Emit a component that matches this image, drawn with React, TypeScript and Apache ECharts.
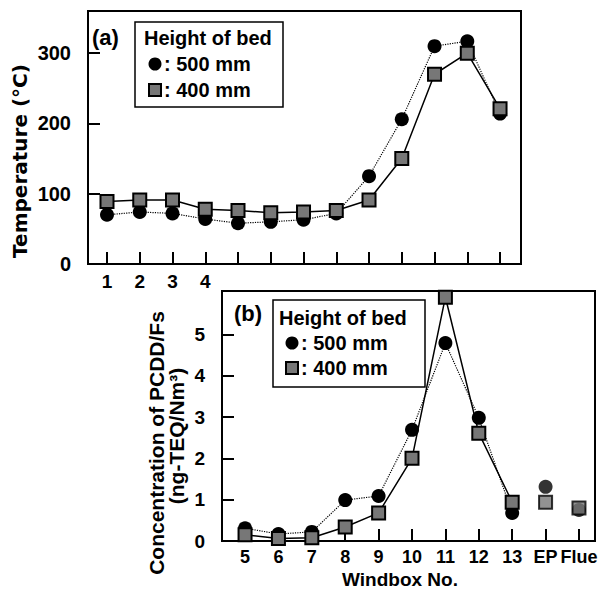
import React, { useEffect, useRef } from "react";
import * as echarts from "echarts";

// ---- Data ----
const windboxTop = [1, 2, 3, 4, 5, 6, 7, 8, 9, 10, 11, 12, 13];
const topTickLabels = [1, 2, 3, 4];
const tempBed500 = [70, 74, 72, 64, 58, 60, 63, 72, 125, 206, 310, 317, 214];
const tempBed400 = [89, 91, 91, 78, 76, 73, 74, 76, 91, 150, 270, 300, 221];
const tempTicks = [0, 100, 200, 300];

const windboxBottom = [5, 6, 7, 8, 9, 10, 11, 12, 13];
const extraPositions = [14, 15];
const bottomCategoryLabels = ["5", "6", "7", "8", "9", "10", "11", "12", "13", "EP", "Flue"];
const concBed500 = [0.31, 0.17, 0.22, 0.99, 1.09, 2.69, 4.79, 2.98, 0.68];
const concBed400 = [0.15, 0.06, 0.08, 0.34, 0.68, 2.0, 5.9, 2.61, 0.94];
const concExtra500 = [1.31, 0.75];
const concExtra400 = [0.94, 0.8];
const concTicks = [0, 1, 2, 3, 4, 5];

const FONT = "'Liberation Sans', Arial, sans-serif";
const WIDE_FONT = "'DejaVu Sans', sans-serif";
const SQUARE_FILL = "#777777";

export default function App() {
  const ref = useRef<HTMLDivElement>(null);
  useEffect(() => {
    document.body.style.margin = "0";
    if (!ref.current) return;
    const chart = echarts.init(ref.current, undefined, { renderer: "svg" });

    const pair = (xs: number[], ys: number[]) => xs.map((x, i) => [x, ys[i]]);
    const bottomPositions = [...windboxBottom, ...extraPositions];

    const circleStyle = { color: "#000" };
    const squareStyle = { color: SQUARE_FILL, borderColor: "#000", borderWidth: 2 };

    const axisCommon = {
      axisLine: { show: true, onZero: false, lineStyle: { color: "#000", width: 2 } },
      splitLine: { show: false },
      axisTick: { show: true, inside: true, length: 12, lineStyle: { color: "#000", width: 2 } },
    };
    const labelFont = { color: "#000", fontFamily: FONT, fontWeight: "bold", fontSize: 18 } as any;

    const textStyle = (size: number, family: string = FONT) => ({
      fill: "#000",
      fontFamily: family,
      fontWeight: "bold",
      fontSize: size,
    });

    chart.setOption({
      animation: false,
      backgroundColor: "#fff",
      grid: [
        { left: 88, top: 11, width: 433, height: 253, show: true, borderColor: "#000", borderWidth: 2, backgroundColor: "transparent" },
        { left: 222, top: 291, width: 373, height: 250, show: true, borderColor: "#000", borderWidth: 2, backgroundColor: "transparent" },
      ],
      xAxis: [
        {
          gridIndex: 0,
          type: "value",
          min: 0.42,
          max: 13.64,
          ...axisCommon,
          axisTick: { ...axisCommon.axisTick, customValues: windboxTop },
          axisLabel: { ...labelFont, fontSize: 19, margin: 8, customValues: topTickLabels },
        },
        {
          gridIndex: 1,
          type: "value",
          min: 4.31,
          max: 15.48,
          ...axisCommon,
          axisTick: { ...axisCommon.axisTick, customValues: bottomPositions },
          axisLabel: {
            ...labelFont,
            margin: 7,
            customValues: bottomPositions,
            formatter: (v: number) => bottomCategoryLabels[Math.round(v) - 5] ?? "",
          },
        },
      ],
      yAxis: [
        {
          gridIndex: 0,
          type: "value",
          min: 0,
          max: 360,
          ...axisCommon,
          axisTick: { ...axisCommon.axisTick, customValues: tempTicks },
          axisLabel: { ...labelFont, fontSize: 20, margin: 17, customValues: tempTicks },
        },
        {
          gridIndex: 1,
          type: "value",
          min: 0,
          max: 6.05,
          ...axisCommon,
          axisTick: { ...axisCommon.axisTick, customValues: concTicks },
          axisLabel: { ...labelFont, fontSize: 19, margin: 17, customValues: concTicks },
        },
      ],
      series: [
        {
          type: "line",
          xAxisIndex: 0,
          yAxisIndex: 0,
          data: pair(windboxTop, tempBed500),
          symbol: "circle",
          symbolSize: 14,
          itemStyle: circleStyle,
          lineStyle: { color: "#000", width: 1.2, type: "dotted" },
          z: 2,
        },
        {
          type: "line",
          xAxisIndex: 0,
          yAxisIndex: 0,
          data: pair(windboxTop, tempBed400),
          symbol: "rect",
          symbolSize: 13,
          itemStyle: squareStyle,
          lineStyle: { color: "#000", width: 1.5 },
          z: 3,
        },
        {
          type: "line",
          xAxisIndex: 1,
          yAxisIndex: 1,
          data: pair(windboxBottom, concBed500),
          symbol: "circle",
          symbolSize: 14,
          itemStyle: circleStyle,
          lineStyle: { color: "#000", width: 1.2, type: "dotted" },
          z: 2,
        },
        {
          type: "scatter",
          xAxisIndex: 1,
          yAxisIndex: 1,
          data: pair(extraPositions, concExtra500),
          symbol: "circle",
          symbolSize: 14,
          itemStyle: circleStyle,
          z: 2,
        },
        {
          type: "line",
          xAxisIndex: 1,
          yAxisIndex: 1,
          data: pair(windboxBottom, concBed400),
          symbol: "rect",
          symbolSize: 13,
          itemStyle: squareStyle,
          lineStyle: { color: "#000", width: 1.5 },
          z: 3,
        },
        {
          type: "scatter",
          xAxisIndex: 1,
          yAxisIndex: 1,
          data: pair(extraPositions, concExtra400),
          symbol: "rect",
          symbolSize: 13,
          itemStyle: squareStyle,
          z: 3,
        },
      ],
      graphic: [
        // Panel (a)
        { type: "text", x: 92, y: 37, style: { text: "(a)", ...textStyle(22), verticalAlign: "middle" }, z: 10 },
        { type: "rect", shape: { x: 135, y: 22, width: 148, height: 85 }, style: { fill: "#fff", stroke: "#000", lineWidth: 1.5 }, z: 10 },
        { type: "text", x: 144, y: 38, style: { text: "Height of bed", ...textStyle(20), verticalAlign: "middle" }, z: 11 },
        { type: "circle", shape: { cx: 155, cy: 64, r: 6.5 }, style: { fill: "#000" }, z: 11 },
        { type: "text", x: 164, y: 64, style: { text: ": 500 mm", ...textStyle(20), verticalAlign: "middle" }, z: 11 },
        { type: "rect", shape: { x: 149, y: 84, width: 12, height: 12 }, style: { fill: SQUARE_FILL, stroke: "#000", lineWidth: 2 }, z: 11 },
        { type: "text", x: 164, y: 90, style: { text: ": 400 mm", ...textStyle(20), verticalAlign: "middle" }, z: 11 },
        // Panel (b)
        { type: "text", x: 234, y: 313, style: { text: "(b)", ...textStyle(22), verticalAlign: "middle" }, z: 10 },
        { type: "rect", shape: { x: 273, y: 300, width: 152, height: 87 }, style: { fill: "#fff", stroke: "#000", lineWidth: 1.5 }, z: 10 },
        { type: "text", x: 279, y: 318, style: { text: "Height of bed", ...textStyle(20), verticalAlign: "middle" }, z: 11 },
        { type: "circle", shape: { cx: 292, cy: 343, r: 6.5 }, style: { fill: "#000" }, z: 11 },
        { type: "text", x: 301, y: 343, style: { text: ": 500 mm", ...textStyle(20), verticalAlign: "middle" }, z: 11 },
        { type: "rect", shape: { x: 286, y: 362, width: 12, height: 12 }, style: { fill: SQUARE_FILL, stroke: "#000", lineWidth: 2 }, z: 11 },
        { type: "text", x: 301, y: 368, style: { text: ": 400 mm", ...textStyle(20), verticalAlign: "middle" }, z: 11 },
        // Axis titles
        {
          type: "text",
          x: 20,
          y: 161,
          rotation: Math.PI / 2,
          style: { text: "Temperature (°C)", ...textStyle(20, WIDE_FONT), align: "center", verticalAlign: "middle" },
        },
        {
          type: "text",
          x: 156,
          y: 443,
          rotation: Math.PI / 2,
          style: { text: "Concentration of PCDD/Fs", ...textStyle(21), align: "center", verticalAlign: "middle" },
        },
        {
          type: "text",
          x: 176,
          y: 436,
          rotation: Math.PI / 2,
          style: { text: "(ng-TEQ/Nm³)", ...textStyle(21), align: "center", verticalAlign: "middle" },
        },
        {
          type: "text",
          x: 400,
          y: 579,
          style: { text: "Windbox No.", ...textStyle(19), align: "center", verticalAlign: "middle" },
        },
      ],
    });

    return () => chart.dispose();
  }, []);

  return <div ref={ref} style={{ width: 602, height: 590 }} />;
}
